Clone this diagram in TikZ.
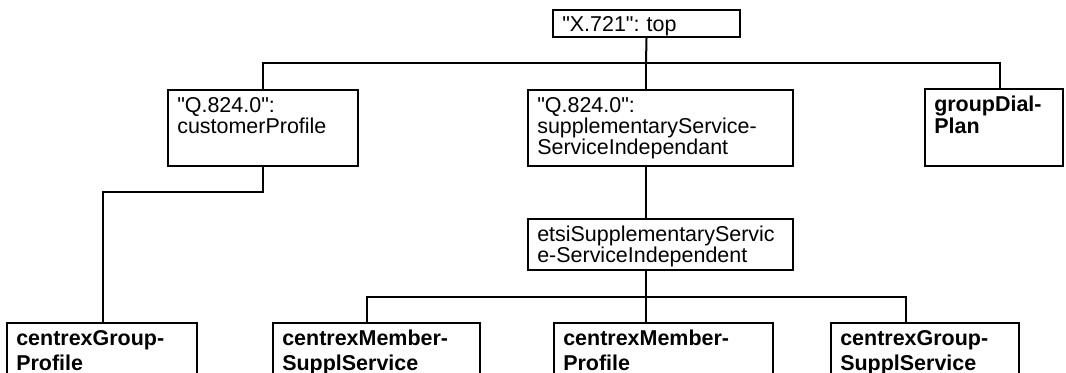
\documentclass[tikz,border=0pt]{standalone}
\usepackage{fontspec}
\setmainfont{Liberation Sans}[Ligatures=TeXOff]
\frenchspacing
% a frame with its text set from the top-left corner
% #1 name, #2..#5 corners (x1,y1,x2,y2), #6 extra text style, #7 text
\newcommand\classbox[7]{%
  \node[frame, minimum width={(#4-#2)*0.75pt}, minimum height={(#5-#3)*0.75pt}]
    (#1) at ({(#2+#4)/2},{(#3+#5)/2}) {};
  \node[boxtext,#6] (#1-text) at ([shift={(10,23)}]#1.north west) {#7};
}
\begin{document}
\begin{tikzpicture}[x=0.75pt,y=-0.75pt,
  frame/.style={draw, line width=1.5pt, rectangle, inner sep=0pt},
  wire/.style={line width=1.5pt},
  boxtext/.style={anchor=base west, inner sep=0pt, align=left, text width=260*0.75pt,
    font=\fontsize{16.1pt}{16.1pt}\selectfont},
  boldtext/.style={font=\fontsize{16.1pt}{16.6pt}\selectfont\bfseries},
  lowtext/.style={font=\fontsize{16.1pt}{18.75pt}\selectfont\bfseries}]
\useasboundingbox (0,0) rectangle (1066,372);
\clip (0,0) rectangle (1066,372);

% classes
\classbox{top}{553}{10}{740}{37}{yshift=0.75pt}{"X.721": top}
\classbox{cp}{168}{90}{358}{166}{}{"Q.824.0":\\customerProfile}
\classbox{ss}{528}{90}{793}{166}{}{"Q.824.0":\\supplementaryService-\\ServiceIndependant}
\classbox{gd}{925}{89}{1063}{166}{boldtext}{groupDial-\\Plan}
\classbox{etsi}{528}{219}{793}{270}{}{etsiSupplementaryServic\\e-ServiceIndependent}
\classbox{cgp}{7}{323}{197}{420}{lowtext}{centrexGroup-\\Profile}
\classbox{cms}{273}{323}{480}{420}{lowtext}{centrexMember-\\SupplService}
\classbox{cmp}{554}{323}{773}{420}{lowtext}{centrexMember-\\Profile}
\classbox{cgs}{831}{323}{1019}{420}{lowtext}{centrexGroup-\\SupplService}

% upper bus
\coordinate (busTL) at (263,63);
\coordinate (busTM) at (646,63);
\coordinate (busTR) at (1000,63);
\draw[wire] (top.south) -- (busTM);
\draw[wire] (cp.north) -- (busTL) -- (busTR) -- (busTR |- gd.north);
\draw[wire] (busTM) -- (busTM |- ss.north);

% supplementary service chain
\draw[wire] (busTM |- ss.south) -- (busTM |- etsi.north);

% lower bus
\coordinate (busBL) at (367,297);
\coordinate (busBM) at (646,297);
\coordinate (busBR) at (906,297);
\draw[wire] (busBM |- etsi.south) -- (busBM);
\draw[wire] (busBL |- cms.north) -- (busBL) -- (busBR) -- (busBR |- cgs.north);
\draw[wire] (busBM) -- (busBM |- cmp.north);

% customer profile branch
\coordinate (bend) at (103,192);
\draw[wire] (cp.south) |- (bend) -- (bend |- cgp.north);
\end{tikzpicture}
\end{document}
